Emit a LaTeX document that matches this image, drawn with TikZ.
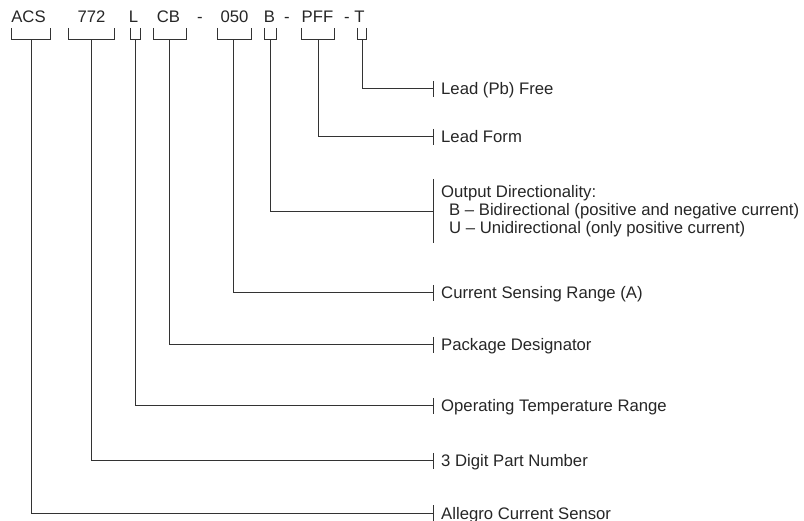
\documentclass[tikz,border=0pt]{standalone}
\usepackage{fontspec}
\setmainfont{Liberation Sans}
\begin{document}
\begin{tikzpicture}[x=1pt,y=-1pt,
  ln/.style={line width=1pt, draw=black!80},
  hdr/.style={anchor=base, inner sep=0pt, text=black!85, font=\fontsize{16.7}{18}\selectfont},
  lab/.style={anchor=base west, inner sep=0pt, text=black!85, font=\fontsize{16.7}{18}\selectfont}]
\useasboundingbox (0,0) rectangle (804,521);
% header
\node[hdr] (hACS) at (28.5,23) {ACS};
\node[hdr] (h772) at (91.5,23) {772};
\node[hdr] (hL) at (133.5,23) {L};
\node[hdr] (hCB) at (168.5,23) {CB};
\node[hdr] (hd1) at (200,23) {-};
\node[hdr] (h050) at (234.5,23) {050};
\node[hdr] (hB) at (269.5,23) {B};
\node[hdr] (hd2) at (287,23) {-};
\node[hdr] (hPFF) at (317.5,23) {PFF};
\node[hdr] (hd3) at (347,23) {-};
\node[hdr] (hT) at (359.5,23) {T};
% brackets
\draw[ln] (11,28) -- (11,40) -- (50,40) -- (50,28);
\draw[ln] (68,28) -- (68,40) -- (114,40) -- (114,28);
\draw[ln] (130,28) -- (130,40) -- (140,40) -- (140,28);
\draw[ln] (153,28) -- (153,40) -- (186,40) -- (186,28);
\draw[ln] (217,28) -- (217,40) -- (251,40) -- (251,28);
\draw[ln] (264,28) -- (264,40) -- (276,40) -- (276,28);
\draw[ln] (301,28) -- (301,40) -- (334,40) -- (334,28);
\draw[ln] (357,28) -- (357,40) -- (366,40) -- (366,28);
% stems
\coordinate (sACS) at (31,40);
\coordinate (s772) at (91,40);
\coordinate (sL) at (135,40);
\coordinate (sCB) at (169,40);
\coordinate (s050) at (233,40);
\coordinate (sB) at (270,40);
\coordinate (sPFF) at (318,40);
\coordinate (sT) at (362,40);
% tick points
\coordinate (kT) at (433,89);
\coordinate (kPFF) at (433,137);
\coordinate (kB) at (433,212);
\coordinate (k050) at (433,293);
\coordinate (kCB) at (433,345);
\coordinate (kL) at (433,406);
\coordinate (k772) at (433,461);
\coordinate (kACS) at (433,513);
% labels
\node[lab] (lT) at (441,95) {Lead (Pb) Free};
\node[lab] (lPFF) at (441,143) {Lead Form};
\node[lab] (lB1) at (441,198) {Output Directionality:};
\node[lab] (lB2) at (449,216) {B – Bidirectional (positive and negative current)};
\node[lab] (lB3) at (449,234) {U – Unidirectional (only positive current)};
\node[lab] (l050) at (441,299) {Current Sensing Range (A)};
\node[lab] (lCB) at (441,351) {Package Designator};
\node[lab] (lL) at (441,412) {Operating Temperature Range};
\node[lab] (l772) at (441,467) {3 Digit Part Number};
\node[lab] (lACS) at (441,519) {Allegro Current Sensor};
% connectors
\foreach \n in {T,PFF,050,CB,L,772,ACS}{
  \draw[ln] (s\n) |- (k\n);
  \draw[ln] ([yshift=8pt]k\n) -- ([yshift=-8pt]k\n);
}
\draw[ln] (sB) |- (kB);
\draw[ln] (433,179) -- (433,243);
\end{tikzpicture}
\end{document}
